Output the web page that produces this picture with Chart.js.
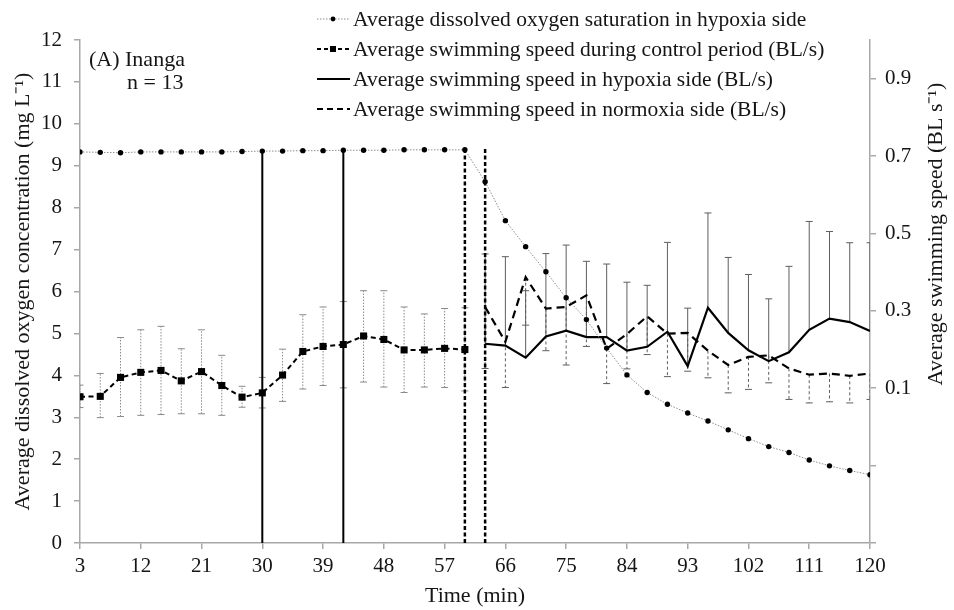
<!doctype html>
<html lang="en">
<head>
<meta charset="utf-8" />
<title>Inanga - swimming speed under hypoxia</title>
<script src="https://cdn.jsdelivr.net/npm/chart.js@4"></script>
<style>
  html, body { margin: 0; padding: 0; background: #fff; }
  #wrap { width: 954px; height: 610px; }
</style>
</head>
<body>
<div id="wrap"><canvas id="chart" width="954" height="610"></canvas></div>
<script>
// x axis (min) and tick labels
const timeTicks = [3, 12, 21, 30, 39, 48, 57, 66, 75, 84, 93, 102, 111, 120];
const leftTicks = [0, 1, 2, 3, 4, 5, 6, 7, 8, 9, 10, 11, 12];
const rightTicks = [-0.3, -0.1, 0.1, 0.3, 0.5, 0.7, 0.9];
const rightTickLabels = ["", "", "0.1", "0.3", "0.5", "0.7", "0.9"];

// dissolved oxygen in hypoxia side (mg/L, left axis)
const o2Times = [3, 6, 9, 12, 15, 18, 21, 24, 27, 30, 33, 36, 39, 42, 45, 48, 51, 54, 57, 60,
                 63, 66, 69, 72, 75, 78, 81, 84, 87, 90, 93, 96, 99, 102, 105, 108, 111, 114, 117, 120];
const o2Values = [9.33, 9.32, 9.31, 9.33, 9.33, 9.33, 9.33, 9.33, 9.34, 9.35, 9.35, 9.36, 9.36, 9.37, 9.37, 9.37, 9.38, 9.38, 9.38, 9.38,
                  8.62, 7.69, 7.07, 6.47, 5.85, 5.33, 4.65, 4.01, 3.59, 3.31, 3.10, 2.91, 2.70, 2.49, 2.30, 2.16, 1.98, 1.84, 1.73, 1.63];

// control period swimming speed (BL/s, right axis) with error bar ends
const controlTimes = [3, 6, 9, 12, 15, 18, 21, 24, 27, 30, 33, 36, 39, 42, 45, 48, 51, 54, 57, 60];
const controlSpeed = [0.078, 0.079, 0.128, 0.141, 0.146, 0.119, 0.143, 0.107, 0.077, 0.088, 0.134, 0.195, 0.208, 0.213, 0.235, 0.226, 0.199, 0.199, 0.203, 0.200];
const controlUpper = [0.108, 0.138, 0.231, 0.251, 0.260, 0.202, 0.251, 0.185, 0.105, 0.128, 0.201, 0.290, 0.310, 0.324, 0.352, 0.352, 0.310, 0.292, 0.306, 0.308];
const controlLower = [0.050, 0.024, 0.027, 0.030, 0.032, 0.034, 0.034, 0.030, 0.051, 0.049, 0.066, 0.098, 0.107, 0.101, 0.116, 0.103, 0.089, 0.103, 0.102, 0.093];

// choice period: hypoxia side (upper bars) and normoxia side (lower bars)
const sideTimes = [63, 66, 69, 72, 75, 78, 81, 84, 87, 90, 93, 96, 99, 102, 105, 108, 111, 114, 117, 120];
const hypoxiaSpeed = [0.215, 0.210, 0.179, 0.234, 0.249, 0.232, 0.232, 0.197, 0.207, 0.246, 0.157, 0.308, 0.243, 0.198, 0.170, 0.193, 0.251, 0.280, 0.271, 0.248];
const hypoxiaUpper = [0.447, 0.440, 0.352, 0.448, 0.470, 0.428, 0.421, 0.374, 0.366, 0.477, 0.307, 0.553, 0.438, 0.394, 0.331, 0.415, 0.531, 0.505, 0.476, 0.476];
const normoxiaSpeed = [0.310, 0.220, 0.387, 0.306, 0.310, 0.340, 0.202, 0.240, 0.286, 0.241, 0.243, 0.197, 0.160, 0.181, 0.185, 0.151, 0.135, 0.138, 0.132, 0.138];
const normoxiaLower = [0.151, 0.102, 0.263, 0.197, 0.160, 0.208, 0.112, 0.150, 0.187, 0.130, 0.144, 0.127, 0.088, 0.097, 0.114, 0.071, 0.062, 0.065, 0.062, 0.071];

// vertical period markers (left axis units)
const solidMarkTimes = [30, 42];
const solidMarkTops = [9.36, 9.42];
const dashMarkTimes = [60, 63];
const dashMarkTops = [9.37, 9.43];

const legendLabels = [
  "Average dissolved oxygen saturation in hypoxia side",
  "Average swimming speed during control period (BL/s)",
  "Average swimming speed in hypoxia side (BL/s)",
  "Average swimming speed in normoxia side (BL/s)",
];
const panelLabel = "(A) Inanga";
const sampleLabel = "n = 13";
const leftTitle = "Average dissolved oxygen concentration (mg L\u207B\u00B9)";
const rightTitle = "Average swimming speed (BL s\u207B\u00B9)";
const xTitle = "Time (min)";

const SERIF = '"Liberation Serif", "Times New Roman", serif';
const AXIS_GREY = "#a8a8a8";
const INK = "#151515";

function points(xs, ys) {
  return xs.map((x, i) => ({ x: x, y: ys[i] }));
}
// vertical segments, separated by gaps
function whiskers(xs, from, to) {
  const out = [];
  xs.forEach((x, i) => {
    out.push({ x: x, y: from[i] }, { x: x, y: to[i] }, { x: x, y: null });
  });
  return out;
}
function segments(xs, tops) {
  return whiskers(xs, xs.map(() => 0), tops);
}

const caps = (data, color) => ({
  data: data, yAxisID: "y2", showLine: false, pointStyle: "line", pointRadius: 3.5,
  pointBorderColor: color, pointBorderWidth: 1, order: 10,
});

Chart.defaults.font.family = SERIF;
Chart.defaults.font.size = 21;
Chart.defaults.color = INK;

const annotations = {
  id: "annotations",
  afterDraw(chart) {
    const ctx = chart.ctx;
    ctx.save();
    ctx.fillStyle = INK;
    ctx.font = "22px " + SERIF;
    ctx.textBaseline = "alphabetic";
    ctx.textAlign = "left";
    ctx.fillText(panelLabel, 89, 66);
    ctx.fillText(sampleLabel, 127, 89);

    // right axis title
    ctx.save();
    ctx.translate(936, 234);
    ctx.rotate(-Math.PI / 2);
    ctx.textAlign = "center";
    ctx.textBaseline = "middle";
    ctx.fillText(rightTitle, 0, 0);
    ctx.restore();

    // legend
    const rows = [
      { color: "#8c8c8c", width: 1, dash: [1.5, 1.5], marker: "circle" },
      { color: "#000", width: 2, dash: [4, 3], marker: "rect" },
      { color: "#000", width: 2.2, dash: [], marker: null },
      { color: "#000", width: 2, dash: [6, 4], marker: null },
    ];
    ctx.font = "21.5px " + SERIF;
    ctx.textBaseline = "middle";
    rows.forEach((r, i) => {
      const y = 19 + i * 30;
      ctx.save();
      ctx.strokeStyle = r.color;
      ctx.lineWidth = r.width;
      ctx.setLineDash(r.dash);
      ctx.beginPath();
      ctx.moveTo(317, y);
      ctx.lineTo(350, y);
      ctx.stroke();
      ctx.restore();
      ctx.fillStyle = "#000";
      if (r.marker === "circle") {
        ctx.beginPath();
        ctx.arc(333, y, 2.4, 0, Math.PI * 2);
        ctx.fill();
      } else if (r.marker === "rect") {
        ctx.fillRect(330, y - 3, 6, 6);
      }
      ctx.fillStyle = INK;
      ctx.fillText(legendLabels[i], 353, y + 1);
    });
    ctx.restore();
  },
};

new Chart(document.getElementById("chart"), {
  type: "line",
  data: {
    datasets: [
      {
        label: legendLabels[0], data: points(o2Times, o2Values), yAxisID: "y",
        borderColor: "#8c8c8c", borderWidth: 1, borderDash: [1.5, 1.5],
        pointRadius: 2.7, pointBackgroundColor: "#000", pointBorderWidth: 0, order: 1,
      },
      {
        label: legendLabels[1], data: points(controlTimes, controlSpeed), yAxisID: "y2",
        borderColor: "#000", borderWidth: 2, borderDash: [5, 3.5],
        pointStyle: "rect", pointRadius: 5, pointBackgroundColor: "#000", pointBorderColor: "#000", pointBorderWidth: 0, order: 2,
      },
      {
        label: legendLabels[2], data: points(sideTimes, hypoxiaSpeed), yAxisID: "y2",
        borderColor: "#000", borderWidth: 2.2, pointRadius: 0, order: 2,
      },
      {
        label: legendLabels[3], data: points(sideTimes, normoxiaSpeed), yAxisID: "y2",
        borderColor: "#000", borderWidth: 2.2, borderDash: [8, 5], pointRadius: 0, order: 2,
      },
      {
        label: "marks", data: segments(solidMarkTimes, solidMarkTops), yAxisID: "y",
        borderColor: "#000", borderWidth: 2, pointRadius: 0, spanGaps: false, order: 3,
      },
      {
        label: "marks2", data: segments(dashMarkTimes, dashMarkTops), yAxisID: "y",
        borderColor: "#000", borderWidth: 2.5, borderDash: [4, 2.5], pointRadius: 0, spanGaps: false, order: 3,
      },
      {
        label: "control err", data: whiskers(controlTimes, controlLower, controlUpper), yAxisID: "y2",
        borderColor: "#8a8a8a", borderWidth: 1, borderDash: [1.5, 1.5], pointRadius: 0, spanGaps: false, order: 10,
      },
      caps(points(controlTimes, controlUpper), "#8a8a8a"),
      caps(points(controlTimes, controlLower), "#8a8a8a"),
      {
        label: "hypoxia err", data: whiskers(sideTimes, hypoxiaSpeed, hypoxiaUpper), yAxisID: "y2",
        borderColor: "#5e5e5e", borderWidth: 1, pointRadius: 0, spanGaps: false, order: 10,
      },
      caps(points(sideTimes, hypoxiaUpper), "#5e5e5e"),
      {
        label: "normoxia err", data: whiskers(sideTimes, normoxiaSpeed, normoxiaLower), yAxisID: "y2",
        borderColor: "#5e5e5e", borderWidth: 1, borderDash: [3, 2.5], pointRadius: 0, spanGaps: false, order: 10,
      },
      caps(points(sideTimes, normoxiaLower), "#5e5e5e"),
    ],
  },
  options: {
    responsive: false,
    animation: false,
    devicePixelRatio: 1,
    layout: { padding: { top: 40, left: 0, right: 0, bottom: 0 } },
    plugins: { legend: { display: false }, tooltip: { enabled: false } },
    elements: { line: { tension: 0 } },
    scales: {
      x: {
        type: "linear", min: 3, max: 120,
        afterBuildTicks: (s) => { s.ticks = timeTicks.map((v) => ({ value: v })); },
        afterFit: (s) => { s.height = 67; },
        grid: { drawOnChartArea: false, tickLength: 6, color: AXIS_GREY, lineWidth: 1.5 },
        border: { color: AXIS_GREY, width: 1.5 },
        ticks: { autoSkip: false, maxRotation: 0, padding: 5, color: INK },
        title: { display: true, text: xTitle, font: { size: 22 }, color: INK, padding: { top: 0, bottom: 1 } },
      },
      y: {
        position: "left", min: 0, max: 12,
        afterBuildTicks: (s) => { s.ticks = leftTicks.map((v) => ({ value: v })); },
        afterFit: (s) => { s.width = 80; },
        grid: { drawOnChartArea: false, tickLength: 6, color: AXIS_GREY, lineWidth: 1.5 },
        border: { color: AXIS_GREY, width: 1.5 },
        ticks: { padding: 12, color: INK },
        title: { display: true, text: leftTitle, font: { size: 22 }, color: INK, padding: { top: 10, bottom: 0 } },
      },
      y2: {
        position: "right", min: -0.3, max: 1.0,
        afterBuildTicks: (s) => { s.ticks = rightTicks.map((v) => ({ value: v })); },
        afterFit: (s) => { s.width = 84; },
        grid: { drawOnChartArea: false, tickLength: 6, color: AXIS_GREY, lineWidth: 1.5 },
        border: { color: AXIS_GREY, width: 1.5 },
        ticks: { padding: 9, color: INK, callback: (v, i) => rightTickLabels[i] },
      },
    },
  },
  plugins: [annotations],
});
</script>
</body>
</html>
